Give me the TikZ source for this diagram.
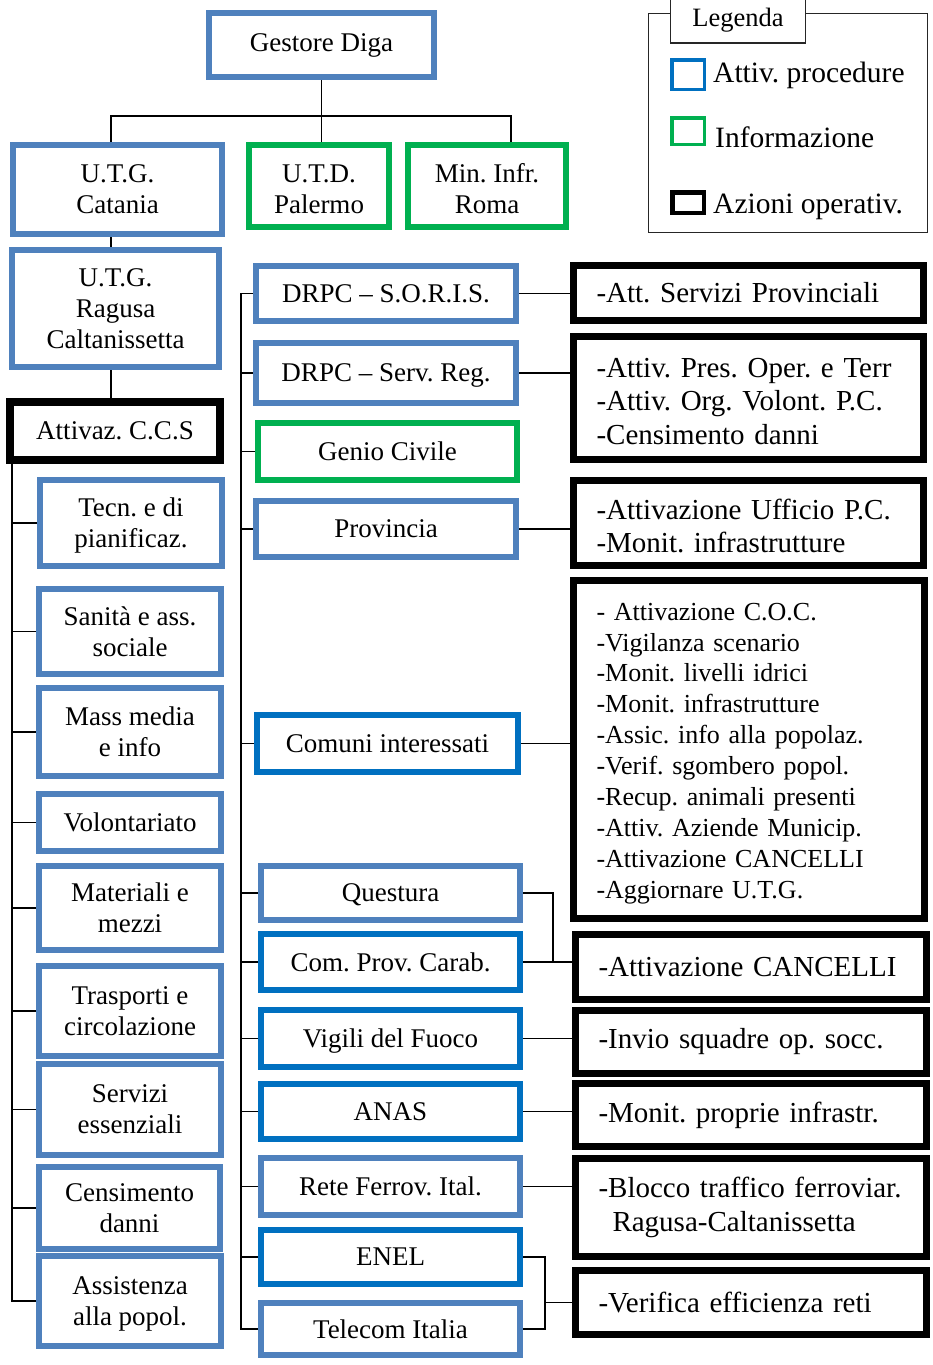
\documentclass[tikz,border=0pt]{standalone}
\usepackage{fontspec}
\setmainfont{Liberation Serif}
\usetikzlibrary{backgrounds}
\definecolor{procblue}{HTML}{4F81BD}
\definecolor{procdark}{HTML}{0070C0}
\definecolor{infogreen}{HTML}{00B050}

\tikzset{
  org/.style={draw, line width=6pt, fill=white, inner sep=0pt, align=center,
    text depth=0pt, font=\fontsize{27}{31}\selectfont},
  proc/.style={org, draw=procblue},
  procd/.style={org, draw=procdark},
  info/.style={org, draw=infogreen},
  ccsbox/.style={org, draw=black, line width=8pt},
  act/.style={draw=black, line width=7pt, fill=white, inner xsep=23pt, inner ysep=0pt,
    align=left, font=\fontsize{29}{33.5}\selectfont},
  actlist/.style={act, font=\fontsize{26}{30.9}\selectfont},
  link/.style={line width=1.5pt, black},
  legtext/.style={inner sep=0pt, font=\fontsize{29.5}{33}\selectfont},
}
% taller first line, to set a block of lines a little lower in its box
\newcommand\topstrut[1]{\rule{0pt}{#1}}

% box given by its outer corners (x1,y1) (x2,y2), in pixels from the top left
\newcommand\orgbox[7]{%
  \pgfmathsetmacro\obWdt{#5-#3-6}\pgfmathsetmacro\obHgt{#6-#4-6}%
  \pgfmathsetmacro\obCx{(#3+#5)/2}\pgfmathsetmacro\obCy{(#4+#6)/2}%
  \node[#2, minimum width=\obWdt pt, minimum height=\obHgt pt] (#1) at (\obCx,\obCy) {#7};}
\newcommand\actbox[7]{%
  \pgfmathsetmacro\obWdt{#5-#3-7-46}\pgfmathsetmacro\obHgt{#6-#4-7}%
  \pgfmathsetmacro\obCx{(#3+#5)/2}\pgfmathsetmacro\obCy{(#4+#6)/2}%
  \node[#2, text width=\obWdt pt, minimum height=\obHgt pt] (#1) at (\obCx,\obCy) {#7};}

\begin{document}
\frenchspacing
\begin{tikzpicture}[x=1pt, y=-1pt]
\useasboundingbox (0,0) rectangle (933,1365);

% top of the tree
\orgbox{gestore}{proc, text depth={}}{206}{10}{437}{80}{Gestore Diga}
\orgbox{utgct}{proc}{10}{142}{225}{237}{U.T.G.\\Catania}
\orgbox{utd}{info}{246}{142}{392}{230}{\topstrut{24pt}U.T.D.\\Palermo}
\orgbox{minr}{info}{405}{142}{569}{230}{\topstrut{24pt}Min. Infr.\\Roma}
\orgbox{utgrg}{proc}{9}{247}{222}{370}{U.T.G.\\Ragusa\\Caltanissetta}
\orgbox{ccs}{ccsbox}{7}{399}{223}{463}{Attivaz. C.C.S}

% C.C.S. functions
\orgbox{tecn}{proc}{37}{477}{225}{569}{Tecn. e di\\pianificaz.}
\orgbox{sanita}{proc}{36}{586}{224}{677}{Sanità e ass.\\sociale}
\orgbox{media}{proc}{36}{685}{224}{779}{Mass media\\e info}
\orgbox{volont}{proc}{36}{791}{224}{854}{Volontariato}
\orgbox{materiali}{proc}{36}{863}{224}{953}{Materiali e\\mezzi}
\orgbox{trasporti}{proc}{36}{963}{224}{1059}{Trasporti e\\circolazione}
\orgbox{servizi}{proc}{36}{1061}{224}{1158}{Servizi\\essenziali}
\orgbox{censim}{proc}{36}{1164}{223}{1252}{Censimento\\danni}
\orgbox{assist}{proc}{36}{1253}{224}{1349}{Assistenza\\alla popol.}

% bodies involved
\orgbox{soris}{proc}{253}{263}{519}{324}{DRPC – S.O.R.I.S.}
\orgbox{servreg}{proc}{253}{340}{519}{406}{DRPC – Serv. Reg.}
\orgbox{genio}{info}{255}{420}{520}{483}{Genio Civile}
\orgbox{provincia}{proc}{253}{498}{519}{560}{Provincia}
\orgbox{comuni}{procd}{254}{712}{521}{775}{Comuni interessati}
\orgbox{questura}{proc}{258}{863}{523}{923}{Questura}
\orgbox{carab}{procd}{258}{931}{523}{993}{Com. Prov. Carab.}
\orgbox{vigili}{procd}{258}{1007}{523}{1070}{Vigili del Fuoco}
\orgbox{anas}{procd}{258}{1081}{523}{1142}{ANAS}
\orgbox{rete}{proc}{258}{1155}{523}{1218}{Rete Ferrov. Ital.}
\orgbox{enel}{procd}{258}{1227}{523}{1287}{ENEL}
\orgbox{telecom}{proc}{258}{1300}{523}{1358}{Telecom Italia}

% operational actions
\actbox{attserv}{act}{570}{262}{927}{324}{-Att. Servizi Provinciali}
\actbox{attpres}{act}{570}{333}{927}{463}{\topstrut{26pt}-Attiv. Pres. Oper. e Terr\\-Attiv. Org. Volont. P.C.\\-Censimento danni}
\actbox{uffpc}{act}{570}{477}{927}{569}{\topstrut{26pt}-Attivazione Ufficio P.C.\\-Monit. infrastrutture}
\actbox{comlist}{actlist}{570}{577}{928}{922}{\topstrut{25pt}- Attivazione C.O.C.\\-Vigilanza scenario\\-Monit. livelli idrici\\-Monit. infrastrutture\\-Assic. info alla popolaz.\\-Verif. sgombero popol.\\-Recup. animali presenti\\-Attiv. Aziende Municip.\\-Attivazione CANCELLI\\-Aggiornare U.T.G.}
\actbox{cancelli}{act}{572}{931}{930}{1003}{-Attivazione CANCELLI}
\actbox{squadre}{act}{572}{1007}{930}{1077}{-Invio squadre op. socc.}
\actbox{monit}{act}{572}{1080}{930}{1150}{-Monit. proprie infrastr.}
\actbox{blocco}{act}{572}{1155}{930}{1260}{-Blocco traffico ferroviar.\\\hspace*{14pt}Ragusa-Caltanissetta}
\actbox{verifica}{act}{572}{1267}{930}{1338}{-Verifica efficienza reti}

% legend
\node[draw=black!85, line width=1.2pt, minimum width=279pt, minimum height=219pt] (legend) at (788,123) {};
\node[draw=black!85, fill=white, line width=1.5pt, minimum width=135pt, minimum height=52pt] (legtab) at (738,17) {};
\node[legtext, anchor=base, font=\fontsize{26.5}{30}\selectfont] (legtitle) at (738,27) {Legenda};
\node[draw=procdark, line width=3.5pt, minimum width=32.5pt, minimum height=29.5pt, inner sep=0pt] (kproc) at (688,74.5) {};
\node[draw=infogreen, line width=3.5pt, minimum width=32.5pt, minimum height=26.5pt, inner sep=0pt] (kinfo) at (688,131) {};
\node[draw=black, line width=4.5pt, minimum width=31.5pt, minimum height=20.5pt, inner sep=0pt] (kact) at (688,202.5) {};
\node[legtext, anchor=base west] (tproc) at (713,82) {Attiv. procedure};
\node[legtext, anchor=base west] (tinfo) at (715,147) {Informazione};
\node[legtext, anchor=base west] (tact) at (713,213) {Azioni operativ.};

% connectors, kept under the boxes
\begin{scope}[on background layer]
  \coordinate (tj) at (323,116);
  \coordinate (tl) at (111,116);
  \coordinate (tr) at (511,116);
  \coordinate (lb) at (12,0);
  \coordinate (mb) at (241,0);
  \coordinate (qb) at (553,0);
  \coordinate (eb) at (545,0);

  \draw[link] (gestore.south) -- (gestore.south |- utd.north);
  \draw[link] (tl |- utgct.north) -- (tl) -- (tr) -- (tr |- minr.north);
  \draw[link] (tl |- utgct.south) -- (tl |- utgrg.north);
  \draw[link] (tl |- utgrg.south) -- (tl |- ccs.north);

  \draw[link] (lb |- ccs.south) |- (assist.west);
  \foreach \n in {tecn,sanita,media,volont,materiali,trasporti,servizi,censim}
    \draw[link] (\n.west) -- (\n.west -| lb);

  \draw[link] (soris.west) -| (mb |- telecom.west) -- (telecom.west);
  \foreach \n in {servreg,genio,provincia,comuni,questura,carab,vigili,anas,rete,enel}
    \draw[link] (\n.west) -- (\n.west -| mb);

  \draw[link] (soris.east) -- (soris.east -| attserv.west);
  \draw[link] (servreg.east) -- (servreg.east -| attpres.west);
  \draw[link] (provincia.east) -- (provincia.east -| uffpc.west);
  \draw[link] (comuni.east) -- (comuni.east -| comlist.west);
  \draw[link] (questura.east) -| (qb |- carab.east);
  \draw[link] (carab.east) -- (carab.east -| cancelli.west);
  \draw[link] (vigili.east) -- (vigili.east -| squadre.west);
  \draw[link] (anas.east) -- (anas.east -| monit.west);
  \draw[link] (rete.east) -- (rete.east -| blocco.west);
  \draw[link] (enel.east) -| (eb |- telecom.east) -- (telecom.east);
  \draw[link] (eb |- verifica.west) -- (verifica.west);
\end{scope}
\end{tikzpicture}
\end{document}
